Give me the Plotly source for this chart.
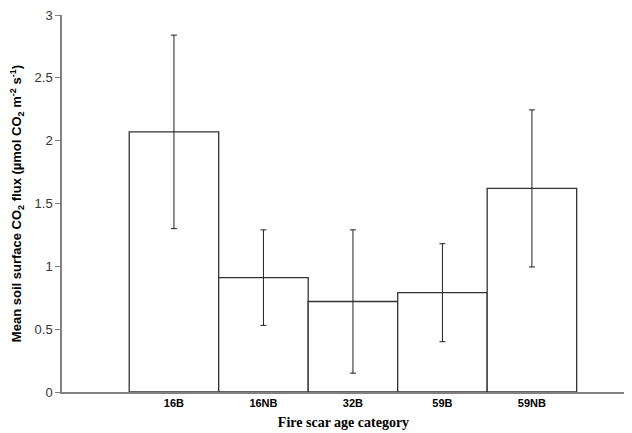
import plotly.graph_objects as go

categories = ["16B", "16NB", "32B", "59B", "59NB"]
means = [2.07, 0.91, 0.72, 0.79, 1.62]
errors = [0.77, 0.38, 0.57, 0.39, 0.625]
positions = [1, 2, 3, 4, 5]
y_ticks = [0, 0.5, 1, 1.5, 2, 2.5, 3]
y_tick_labels = ["0", "0.5", "1", "1.5", "2", "2.5", "3"]

fig = go.Figure()
fig.add_trace(go.Bar(
    x=positions, y=means, width=1.0,
    marker=dict(color="white", line=dict(color="#333333", width=1.3)),
    error_y=dict(type="data", array=errors, visible=True, color="#222222", thickness=1, width=3),
))

fig.update_layout(
    width=624, height=425,
    margin=dict(l=54, r=7, t=7, b=41),
    paper_bgcolor="white", plot_bgcolor="white",
    showlegend=False,
    font=dict(family="Liberation Sans, Arial", color="#222222"),
)
fig.update_xaxes(
    range=[-0.251, 6.04], tickmode="array", tickvals=positions, ticktext=categories,
    showline=True, linecolor="#808080", linewidth=1.5, ticks="", showgrid=False, zeroline=False,
    automargin=False,
    tickfont=dict(size=11, family="Liberation Sans, Arial", color="black", weight="bold"),
    title=dict(text="<b>Fire scar age category</b>", font=dict(family="Liberation Serif, Times New Roman", size=14, color="black"), standoff=9),
)
fig.update_yaxes(
    range=[0, 3], tickmode="array", tickvals=y_ticks, ticktext=y_tick_labels,
    showline=True, linecolor="#808080", linewidth=1.5, ticks="outside", ticklen=5, tickcolor="#808080",
    showgrid=False, zeroline=False, automargin=False, ticklabeloverflow="allow",
    tickfont=dict(size=13, color="#333333"),
    title=dict(text="<b>Mean soil surface CO<sub>2</sub> flux (µmol CO<sub>2</sub> m<sup>-2</sup> s<sup>-1</sup>)</b>",
               font=dict(size=13, color="black"), standoff=16),
)

fig.write_html("out.html")
